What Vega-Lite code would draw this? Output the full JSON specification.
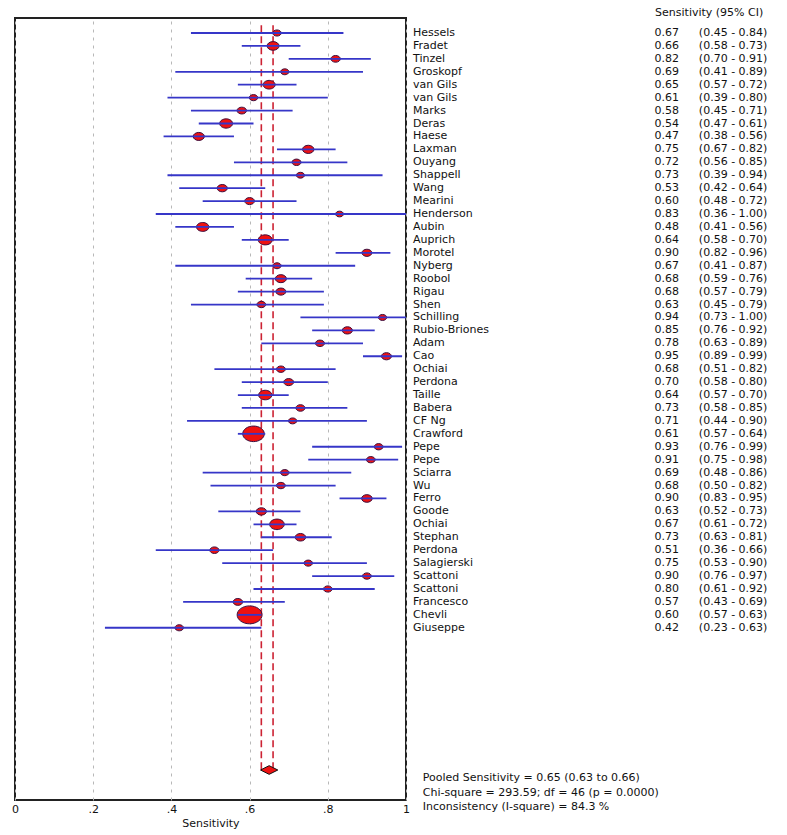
{
  "$schema": "https://vega.github.io/schema/vega-lite/v6.json",
  "width": 391,
  "height": 782,
  "autosize": {"type": "none"},
  "padding": {"left": 15, "top": 18, "right": 381, "bottom": 35},
  "background": "white",
  "config": {
    "view": {"stroke": "#222222", "strokeWidth": 2},
    "font": "DejaVu Sans",
    "text": {"font": "DejaVu Sans", "fontSize": 11, "color": "#111111"}
  },
  "datasets": {
    "studies": [
      {"row": 1, "study": "Hessels", "sens": 0.67, "lo": 0.45, "hi": 0.84, "w": 22, "ci": "(0.45 - 0.84)"},
      {"row": 2, "study": "Fradet", "sens": 0.66, "lo": 0.58, "hi": 0.73, "w": 153, "ci": "(0.58 - 0.73)"},
      {"row": 3, "study": "Tinzel", "sens": 0.82, "lo": 0.70, "hi": 0.91, "w": 51, "ci": "(0.70 - 0.91)"},
      {"row": 4, "study": "Groskopf", "sens": 0.69, "lo": 0.41, "hi": 0.89, "w": 14, "ci": "(0.41 - 0.89)"},
      {"row": 5, "study": "van Gils", "sens": 0.65, "lo": 0.57, "hi": 0.72, "w": 155, "ci": "(0.57 - 0.72)"},
      {"row": 6, "study": "van Gils", "sens": 0.61, "lo": 0.39, "hi": 0.80, "w": 22, "ci": "(0.39 - 0.80)"},
      {"row": 7, "study": "Marks", "sens": 0.58, "lo": 0.45, "hi": 0.71, "w": 55, "ci": "(0.45 - 0.71)"},
      {"row": 8, "study": "Deras", "sens": 0.54, "lo": 0.47, "hi": 0.61, "w": 195, "ci": "(0.47 - 0.61)"},
      {"row": 9, "study": "Haese", "sens": 0.47, "lo": 0.38, "hi": 0.56, "w": 118, "ci": "(0.38 - 0.56)"},
      {"row": 10, "study": "Laxman", "sens": 0.75, "lo": 0.67, "hi": 0.82, "w": 128, "ci": "(0.67 - 0.82)"},
      {"row": 11, "study": "Ouyang", "sens": 0.72, "lo": 0.56, "hi": 0.85, "w": 37, "ci": "(0.56 - 0.85)"},
      {"row": 12, "study": "Shappell", "sens": 0.73, "lo": 0.39, "hi": 0.94, "w": 10, "ci": "(0.39 - 0.94)"},
      {"row": 13, "study": "Wang", "sens": 0.53, "lo": 0.42, "hi": 0.64, "w": 79, "ci": "(0.42 - 0.64)"},
      {"row": 14, "study": "Mearini", "sens": 0.60, "lo": 0.48, "hi": 0.72, "w": 64, "ci": "(0.48 - 0.72)"},
      {"row": 15, "study": "Henderson", "sens": 0.83, "lo": 0.36, "hi": 1.00, "w": 5, "ci": "(0.36 - 1.00)"},
      {"row": 16, "study": "Aubin", "sens": 0.48, "lo": 0.41, "hi": 0.56, "w": 170, "ci": "(0.41 - 0.56)"},
      {"row": 17, "study": "Auprich", "sens": 0.64, "lo": 0.58, "hi": 0.70, "w": 246, "ci": "(0.58 - 0.70)"},
      {"row": 18, "study": "Morotel", "sens": 0.90, "lo": 0.82, "hi": 0.96, "w": 71, "ci": "(0.82 - 0.96)"},
      {"row": 19, "study": "Nyberg", "sens": 0.67, "lo": 0.41, "hi": 0.87, "w": 16, "ci": "(0.41 - 0.87)"},
      {"row": 20, "study": "Roobol", "sens": 0.68, "lo": 0.59, "hi": 0.76, "w": 116, "ci": "(0.59 - 0.76)"},
      {"row": 21, "study": "Rigau", "sens": 0.68, "lo": 0.57, "hi": 0.79, "w": 69, "ci": "(0.57 - 0.79)"},
      {"row": 22, "study": "Shen", "sens": 0.63, "lo": 0.45, "hi": 0.79, "w": 31, "ci": "(0.45 - 0.79)"},
      {"row": 23, "study": "Schilling", "sens": 0.94, "lo": 0.73, "hi": 1.00, "w": 17, "ci": "(0.73 - 1.00)"},
      {"row": 24, "study": "Rubio-Briones", "sens": 0.85, "lo": 0.76, "hi": 0.92, "w": 77, "ci": "(0.76 - 0.92)"},
      {"row": 25, "study": "Adam", "sens": 0.78, "lo": 0.63, "hi": 0.89, "w": 39, "ci": "(0.63 - 0.89)"},
      {"row": 26, "study": "Cao", "sens": 0.95, "lo": 0.89, "hi": 0.99, "w": 73, "ci": "(0.89 - 0.99)"},
      {"row": 27, "study": "Ochiai", "sens": 0.68, "lo": 0.51, "hi": 0.82, "w": 35, "ci": "(0.51 - 0.82)"},
      {"row": 28, "study": "Perdona", "sens": 0.70, "lo": 0.58, "hi": 0.80, "w": 67, "ci": "(0.58 - 0.80)"},
      {"row": 29, "study": "Taille", "sens": 0.64, "lo": 0.57, "hi": 0.70, "w": 210, "ci": "(0.57 - 0.70)"},
      {"row": 30, "study": "Babera", "sens": 0.73, "lo": 0.58, "hi": 0.85, "w": 42, "ci": "(0.58 - 0.85)"},
      {"row": 31, "study": "CF Ng", "sens": 0.71, "lo": 0.44, "hi": 0.90, "w": 15, "ci": "(0.44 - 0.90)"},
      {"row": 32, "study": "Crawford", "sens": 0.61, "lo": 0.57, "hi": 0.64, "w": 746, "ci": "(0.57 - 0.64)"},
      {"row": 33, "study": "Pepe", "sens": 0.93, "lo": 0.76, "hi": 0.99, "w": 30, "ci": "(0.76 - 0.99)"},
      {"row": 34, "study": "Pepe", "sens": 0.91, "lo": 0.75, "hi": 0.98, "w": 30, "ci": "(0.75 - 0.98)"},
      {"row": 35, "study": "Sciarra", "sens": 0.69, "lo": 0.48, "hi": 0.86, "w": 23, "ci": "(0.48 - 0.86)"},
      {"row": 36, "study": "Wu", "sens": 0.68, "lo": 0.50, "hi": 0.82, "w": 33, "ci": "(0.50 - 0.82)"},
      {"row": 37, "study": "Ferro", "sens": 0.90, "lo": 0.83, "hi": 0.95, "w": 96, "ci": "(0.83 - 0.95)"},
      {"row": 38, "study": "Goode", "sens": 0.63, "lo": 0.52, "hi": 0.73, "w": 81, "ci": "(0.52 - 0.73)"},
      {"row": 39, "study": "Ochiai", "sens": 0.67, "lo": 0.61, "hi": 0.72, "w": 281, "ci": "(0.61 - 0.72)"},
      {"row": 40, "study": "Stephan", "sens": 0.73, "lo": 0.63, "hi": 0.81, "w": 93, "ci": "(0.63 - 0.81)"},
      {"row": 41, "study": "Perdona", "sens": 0.51, "lo": 0.36, "hi": 0.66, "w": 43, "ci": "(0.36 - 0.66)"},
      {"row": 42, "study": "Salagierski", "sens": 0.75, "lo": 0.53, "hi": 0.90, "w": 21, "ci": "(0.53 - 0.90)"},
      {"row": 43, "study": "Scattoni", "sens": 0.90, "lo": 0.76, "hi": 0.97, "w": 31, "ci": "(0.76 - 0.97)"},
      {"row": 44, "study": "Scattoni", "sens": 0.80, "lo": 0.61, "hi": 0.92, "w": 26, "ci": "(0.61 - 0.92)"},
      {"row": 45, "study": "Francesco", "sens": 0.57, "lo": 0.43, "hi": 0.69, "w": 56, "ci": "(0.43 - 0.69)"},
      {"row": 46, "study": "Chevli", "sens": 0.60, "lo": 0.57, "hi": 0.63, "w": 1025, "ci": "(0.57 - 0.63)"},
      {"row": 47, "study": "Giuseppe", "sens": 0.42, "lo": 0.23, "hi": 0.63, "w": 23, "ci": "(0.23 - 0.63)"}
    ],
    "pooled": [
      {"row": 58, "top": 0.4, "sens": 0.65, "lo": 0.63, "hi": 0.66}
    ],
    "pooledLines": [
      {"x": 0.63, "top": 0.4, "bottom": 58},
      {"x": 0.66, "top": 0.4, "bottom": 58}
    ],
    "header": [
      {"row": -0.55, "label": "Sensitivity (95% CI)"}
    ],
    "footer": [
      {"row": 58.6, "label": "Pooled Sensitivity = 0.65 (0.63 to 0.66)"},
      {"row": 59.75, "label": "Chi-square = 293.59; df =  46 (p = 0.0000)"},
      {"row": 60.9, "label": "Inconsistency (I-square) = 84.3 %"}
    ]
  },
  "layer": [
    {
      "data": {"name": "pooledLines"},
      "mark": {"type": "rule", "color": "#cc2233", "strokeWidth": 1.6, "strokeDash": [7, 4]},
      "encoding": {
        "x": {"field": "x", "type": "quantitative",
          "scale": {"domain": [0, 1], "nice": false, "zero": false},
          "axis": {
            "values": [0, 0.1, 0.2, 0.3, 0.4, 0.5, 0.6, 0.7, 0.8, 0.9, 1],
            "labelExpr": "datum.value == 0 ? '0' : datum.value == 1 ? '1' : (round(datum.value * 10) % 2 == 0 ? replace(format(datum.value, '.1f'), '0.', '.') : '')",
            "title": "Sensitivity",
            "titleFont": "DejaVu Sans", "titleFontSize": 11, "titleFontWeight": "normal", "titleColor": "#111111", "titlePadding": 3,
            "labelFont": "DejaVu Sans", "labelFontSize": 11, "labelColor": "#111111", "labelPadding": 3,
            "labelOverlap": false, "labelFlush": false,
            "domain": false, "ticks": false,
            "grid": true, "gridColor": "#b8b8b8", "gridDash": [3, 5], "gridWidth": 1
          }
        },
        "y": {"field": "top", "type": "quantitative",
          "scale": {"domain": [-0.16, 60.32], "nice": false, "zero": false, "reverse": true},
          "axis": null},
        "y2": {"field": "bottom"}
      }
    },
    {
      "data": {"name": "studies"},
      "mark": {"type": "point", "shape": "M-1,0A1,0.72 0 1,1 1,0A1,0.72 0 1,1 -1,0Z", "filled": true, "fill": "#ee1111", "stroke": "#3a1040", "strokeWidth": 1, "opacity": 1},
      "encoding": {
        "x": {"field": "sens", "type": "quantitative"},
        "y": {"field": "row", "type": "quantitative"},
        "size": {"field": "w", "type": "quantitative", "legend": null,
          "scale": {"type": "linear", "domain": [0, 1025], "range": [60, 620], "zero": false}}
      }
    },
    {
      "data": {"name": "studies"},
      "mark": {"type": "rule", "color": "#3636c8", "strokeWidth": 1.8},
      "encoding": {
        "x": {"field": "lo", "type": "quantitative"},
        "x2": {"field": "hi"},
        "y": {"field": "row", "type": "quantitative"}
      }
    },
    {
      "data": {"name": "pooled"},
      "mark": {"type": "point", "shape": "M-1,0L0,-0.5L1,0L0,0.5Z", "filled": true, "fill": "#ee1111", "stroke": "#111111", "strokeWidth": 1, "size": 300, "opacity": 1},
      "encoding": {
        "x": {"field": "sens", "type": "quantitative"},
        "y": {"field": "row", "type": "quantitative"}
      }
    },
    {
      "data": {"name": "studies"},
      "mark": {"type": "text", "align": "left", "baseline": "middle"},
      "encoding": {
        "x": {"datum": 1.018, "type": "quantitative"},
        "y": {"field": "row", "type": "quantitative"},
        "text": {"field": "study"}
      }
    },
    {
      "data": {"name": "studies"},
      "mark": {"type": "text", "align": "right", "baseline": "middle"},
      "encoding": {
        "x": {"datum": 1.698, "type": "quantitative"},
        "y": {"field": "row", "type": "quantitative"},
        "text": {"field": "sens", "format": ".2f"}
      }
    },
    {
      "data": {"name": "studies"},
      "mark": {"type": "text", "align": "left", "baseline": "middle"},
      "encoding": {
        "x": {"datum": 1.749, "type": "quantitative"},
        "y": {"field": "row", "type": "quantitative"},
        "text": {"field": "ci"}
      }
    },
    {
      "data": {"name": "header"},
      "mark": {"type": "text", "align": "left", "baseline": "middle"},
      "encoding": {
        "x": {"datum": 1.637, "type": "quantitative"},
        "y": {"field": "row", "type": "quantitative"},
        "text": {"field": "label"}
      }
    },
    {
      "data": {"name": "footer"},
      "mark": {"type": "text", "align": "left", "baseline": "middle"},
      "encoding": {
        "x": {"datum": 1.043, "type": "quantitative"},
        "y": {"field": "row", "type": "quantitative"},
        "text": {"field": "label"}
      }
    }
  ]
}
